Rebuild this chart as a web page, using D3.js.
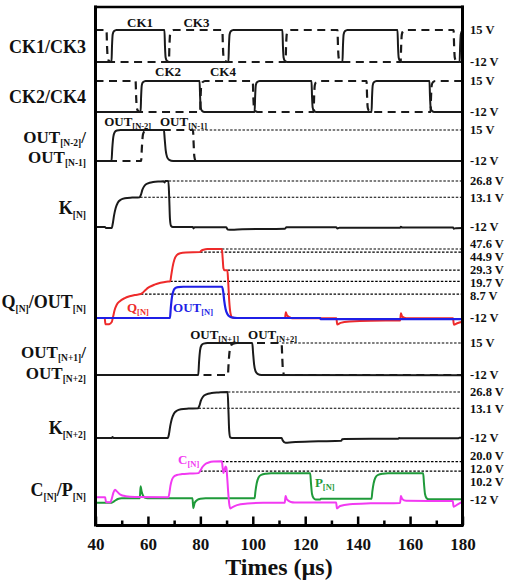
<!DOCTYPE html>
<html>
<head>
<meta charset="utf-8">
<script src="https://cdn.jsdelivr.net/npm/d3@7"></script>
<style>
  html, body { margin: 0; padding: 0; background: #fff; }
  svg { display: block; }
  text { font-family: "Liberation Serif", "Times New Roman", serif; font-weight: bold; fill: #111; }
</style>
</head>
<body>
<svg id="chart" width="506" height="584"></svg>
<script>
// ---- time axis ----
const timeDomain = [40, 180];
const minorTicks = [40, 50, 60, 70, 80, 90, 100, 110, 120, 130, 140, 150, 160, 170, 180];
const tickLabels = ["40", "60", "80", "100", "120", "140", "160", "180"];

// ---- clock edge times (µs); CK1/CK2 start low, CK3/CK4 start high ----
const ck1Edges = [46.1, 66.3, 90.7, 111.3, 134.2, 155.2, 178.9];
const ck3Edges = [44.2, 68.0, 88.4, 112.5, 132.3, 156.4, 176.6];
const ck2Edges = [57.2, 79.7, 100.7, 122.4, 145.3, 167.4];
const ck4Edges = [55.3, 79.9, 100.0, 123.2, 143.4, 167.8];

// ---- waveforms as [time µs, volts] ----
const outNm2 = [[40,-12],[46.1,-12],[46.4,-1],[46.8,9],[47.3,13],[48.1,14.5],[49.6,15],[66.1,15],[66.4,7],[66.8,-3],[67.3,-8.5],[68.1,-11],[69.6,-12],[180,-12]];
const outNm1 = [[40,-12],[57.4,-12],[57.7,0],[58.1,11],[58.8,14.3],[59.8,15],[77.2,15],[77.4,5],[77.7,-8],[78.2,-12],[180,-12]];

const kN = [[40,-12],[43.6,-12],[44.0,-12.9],[46.2,-12.9],[46.6,-9],[47.1,-2],[47.7,4],[48.5,8.5],[49.6,11],[51.2,12.3],[54,12.8],[56.8,13.1],[57.3,15],[57.9,19.5],[58.7,22.8],[60,24.8],[62,25.9],[64.5,26.4],[65.9,26.6],[66.3,25.6],[66.7,26.8],[67.8,26.8],[68.1,14],[68.4,-5],[68.8,-11],[69.5,-12],[77.1,-12],[77.4,-13.2],[77.8,-12.2],[89.9,-12.2],[90.4,-14.2],[92,-14.4],[96,-13.8],[112.3,-13.4],[112.8,-12.3],[131.8,-12.2],[132.3,-13.2],[133,-12.7],[156.2,-12.6],[156.5,-11.8],[157,-12.4],[176.4,-12.4],[176.7,-13.4],[177.5,-13],[180,-12.8]];

const qN = [[40,-12],[43.5,-12],[43.8,-17.5],[45.2,-17.3],[46.2,-15.5],[46.7,-11],[47.3,-5],[48.1,-0.5],[49.3,2.5],[51,5],[53,6.8],[55,7.9],[57.3,8.7],[58,9.8],[59.2,12.5],[60.6,14.8],[62.5,16.8],[64.8,18.4],[67,19.4],[68.5,19.7],[68.9,25],[69.4,32],[70.1,38.5],[71,42.3],[72.3,44],[74.5,44.6],[79.8,44.9],[80.3,46],[81.2,47],[82.7,47.6],[88.2,47.6],[88.5,40],[88.8,31],[89.2,29.3],[90.3,29.3],[90.6,20],[91,3],[91.5,-8],[92.1,-11.5],[93,-12],[112.3,-12],[112.6,-7],[113.0,-9.5],[114,-11.3],[115,-12.2],[131.9,-12.2],[132.2,-17.6],[133.5,-16.2],[137,-15],[145,-14.3],[156.2,-14.2],[156.5,-8],[157,-10.8],[158.5,-12.2],[176.4,-12.3],[176.7,-17.8],[178,-16.5],[180,-15.2]];
const outN = [[40,-12],[68.4,-12],[68.7,-4],[69.1,5],[69.6,10.5],[70.3,13.6],[71.5,14.7],[73.5,15],[88.3,15],[88.7,11],[89.1,3],[89.6,-4],[90.3,-8.5],[91.2,-10.8],[92.5,-11.7],[94,-12],[125.7,-12],[125.9,-13],[180,-13]];

const outNp1 = [[40,-12],[79.2,-12],[79.5,-1],[79.9,9],[80.4,13],[81.2,14.5],[82.7,15],[99.8,15],[100.1,7],[100.5,-3],[101,-8.5],[101.8,-11],[103.3,-12],[180,-12.3]];
const outNp2 = [[40,-12],[90.5,-12],[90.8,-1],[91.2,9],[91.7,13],[92.5,14.5],[94,15],[111.0,15],[111.2,5],[111.5,-8],[112,-12],[180,-12]];

const kN2 = [[40,-12],[46.2,-12],[46.5,-11.2],[46.9,-12],[67.6,-12],[68.0,-9],[68.5,-2],[69.1,4],[69.9,8.5],[71,11],[72.6,12.3],[75.5,12.8],[79.1,13.1],[79.6,15],[80.2,19.5],[81,22.8],[82.3,24.8],[84.3,25.9],[87,26.4],[90.4,26.8],[90.7,12],[91.0,-6],[91.4,-11.5],[92,-12],[111.0,-12],[111.4,-14],[112.5,-16],[115,-15.5],[125,-14.8],[133.8,-14.3],[134.1,-13],[135,-12.8],[155.5,-12.6],[155.8,-12],[156.5,-12.3],[178.5,-12.2],[178.8,-11.7],[180,-11.8]];

const cN = [[40,-9.8],[43.7,-9.8],[44.0,-13.8],[45.7,-13.8],[46.2,-11],[46.8,-6],[47.4,-3.5],[48,-4.5],[49.5,-7.5],[51.5,-8.8],[55,-9.5],[67.8,-9.7],[68.2,-6],[68.6,0],[69.1,4.5],[69.8,7.3],[71,8.8],[73,9.6],[76,10],[79.3,10.4],[80,12.5],[80.8,15.5],[81.8,17.8],[83.2,19.2],[85,20],[88.2,20.3],[88.5,15],[88.8,10.5],[89.2,13],[89.6,16],[89.9,15],[90.2,8],[90.6,-5],[91.0,-15],[91.4,-19],[92,-18.3],[94,-16.3],[98,-15],[104,-14.3],[112.2,-14.2],[112.5,-8.7],[113,-11.5],[114.5,-13.6],[116,-14],[131.8,-14],[132.1,-19],[133.3,-17],[137,-15.5],[145,-14.8],[156.2,-14.4],[156.5,-8.7],[157,-11.2],[158.5,-12.7],[176.3,-12.9],[176.6,-17.6],[178,-15.8],[180,-13.4]];
const pN = [[40,-14.2],[46.2,-14.2],[47.2,-13],[48.5,-11.2],[50,-10.6],[56.9,-10.6],[57.2,-0.5],[57.6,-5],[58.3,-9],[59.3,-10.4],[60.5,-10.6],[77.0,-10.6],[77.3,-18.8],[77.8,-14.5],[78.8,-12],[80,-11],[82,-10.6],[100.7,-10.6],[101.0,-5],[101.5,2],[102.2,6.8],[103.2,9],[105,9.9],[107,10.2],[121.9,10.2],[122.2,2],[122.6,-7],[123.2,-10.5],[124,-11.6],[125.7,-11.6],[126,-11],[145.3,-11],[145.6,-5],[146.1,2],[146.8,6.8],[147.8,9],[149.6,9.9],[151.6,10.2],[165.0,10.2],[165.3,2],[165.7,-7],[166.3,-10.5],[167.1,-11.4],[180,-11.4]];

// ---- voltage labels per panel and dotted reference levels [volts, start time] ----
const voltLabels = [
  ["15 V", "-12 V"],
  ["15 V", "-12 V"],
  ["15 V", "-12 V"],
  ["26.8 V", "13.1 V", "-12 V"],
  ["47.6 V", "44.9 V", "29.3 V", "19.7 V", "8.7 V", "-12 V"],
  ["15 V", "-12 V"],
  ["26.8 V", "13.1 V", "-12 V"],
  ["20.0 V", "12.0 V", "10.2 V", "-12 V"]
];
const refLevels = [
  [],
  [],
  [[15, 77.3]],
  [[26.8, 67.9], [13.1, 57.0]],
  [[47.6, 88.2], [44.9, 79.9], [29.3, 90.4], [19.7, 68.5], [8.7, 57.3]],
  [[15, 111.1]],
  [[26.8, 90.5], [13.1, 79.3]],
  [[20.0, 88.2], [12.0, 79.9]]
];
const panelNames = [
  [["CK1/CK3", ""]],
  [["CK2/CK4", ""]],
  [["OUT", "[N-2]", "/"], ["OUT", "[N-1]", ""]],
  [["K", "[N]", ""]],
  [["Q", "[N]", "/OUT", "[N]"]],
  [["OUT", "[N+1]", "/"], ["OUT", "[N+2]", ""]],
  [["K", "[N+2]", ""]],
  [["C", "[N]", "/P", "[N]"]]
];

// ---- layout ----
const svg = d3.select("#chart");
const X0 = 95.5, X1 = 462.5, YTOP = 7, YBOT = 525;
const x = d3.scaleLinear().domain(timeDomain).range([X0, X1]);

// each panel: pixel of -12 V and pixel of its reference top level
const panelGeom = [
  { vTop: 15,   yLow: 62,  yTop: 30 },
  { vTop: 15,   yLow: 112, yTop: 81 },
  { vTop: 15,   yLow: 161, yTop: 130 },
  { vTop: 26.8, yLow: 227, yTop: 181 },
  { vTop: 47.6, yLow: 318, yTop: 249 },
  { vTop: 15,   yLow: 375, yTop: 343 },
  { vTop: 26.8, yLow: 438, yTop: 392 },
  { vTop: 20,   yLow: 500, yTop: 461.6 }
];
const yScales = panelGeom.map(g => d3.scaleLinear().domain([-12, g.vTop]).range([g.yLow, g.yTop]));
const labelCenters = [[47], [97], [137, 157], [208], [302], [352, 373], [428], [490]];

// build a clock waveform from its edge times
function clockWave(edges, startHigh, lo = -12, hi = 15) {
  const A = hi - lo;
  const pts = [[timeDomain[0], startHigh ? hi : lo]];
  let high = startHigh;
  edges.forEach(t => {
    if (!high) {
      pts.push([t, lo], [t + 0.2, lo + 0.5 * A], [t + 0.45, lo + 0.86 * A], [t + 0.9, lo + 0.96 * A], [t + 1.9, hi]);
    } else {
      pts.push([t, hi], [t + 0.2, hi - 0.5 * A], [t + 0.45, hi - 0.86 * A], [t + 0.9, hi - 0.96 * A], [t + 1.9, lo]);
    }
    high = !high;
  });
  const out = pts.filter(p => p[0] < timeDomain[1]);
  out.push([timeDomain[1] + 2, high ? hi : lo]);
  return out;
}

svg.append("defs").append("clipPath").attr("id", "plotClip")
  .append("rect").attr("x", X0).attr("y", YTOP).attr("width", X1 - X0).attr("height", YBOT - YTOP);

const plot = svg.append("g").attr("clip-path", "url(#plotClip)");

// dotted reference levels
refLevels.forEach((levels, i) => {
  levels.forEach(([v, t0]) => {
    plot.append("line")
      .attr("x1", x(t0)).attr("x2", X1)
      .attr("y1", yScales[i](v)).attr("y2", yScales[i](v))
      .attr("stroke", "#000").attr("stroke-width", 1.2).attr("stroke-dasharray", "2.5,1.6");
  });
});

function drawWave(data, panel, color, dashed, width) {
  const line = d3.line()
    .x(d => x(d[0]))
    .y(d => yScales[panel](d[1]))
    .curve(d3.curveMonotoneX);
  plot.append("path")
    .datum(data)
    .attr("d", line)
    .attr("fill", "none")
    .attr("stroke", color)
    .attr("stroke-width", width || 2)
    .attr("stroke-linejoin", "round")
    .attr("stroke-dasharray", dashed ? "8,5.5" : null);
}

const black = "#1a1a1a";
drawWave(clockWave(ck3Edges, true), 0, black, true, 2.2);
drawWave(clockWave(ck1Edges, false), 0, black, false, 2);
drawWave(clockWave(ck4Edges, true), 1, black, true, 2.2);
drawWave(clockWave(ck2Edges, false), 1, black, false, 2);
drawWave(outNm1, 2, black, true, 2.2);
drawWave(outNm2, 2, black, false, 2);
drawWave(kN, 3, black, false, 2);
drawWave(qN, 4, "#ee2a2a", false, 2);
drawWave(outN, 4, "#1f1fe6", false, 2.2);
drawWave(outNp2, 5, black, true, 2.2);
drawWave(outNp1, 5, black, false, 2);
drawWave(kN2, 6, black, false, 2);
drawWave(pN, 7, "#1f9a3a", false, 2);
drawWave(cN, 7, "#f23af2", false, 2);

// frame
const frame = svg.append("g").attr("stroke", "#000").attr("stroke-linecap", "square");
frame.append("line").attr("x1", X0).attr("x2", X1).attr("y1", YTOP).attr("y2", YTOP).attr("stroke-width", 2.5);
frame.append("line").attr("x1", X0).attr("x2", X0).attr("y1", YTOP).attr("y2", YBOT).attr("stroke-width", 3);
frame.append("line").attr("x1", X1).attr("x2", X1).attr("y1", YTOP).attr("y2", YBOT).attr("stroke-width", 3);

// bottom axis with inward ticks
const labelled = new Set(tickLabels.map(Number));
const axis = d3.axisBottom(x).tickValues(minorTicks).tickSize(0).tickFormat(d => labelled.has(d) ? String(d) : "");
const axisG = svg.append("g").attr("transform", `translate(0,${YBOT})`).call(axis);
axisG.select(".domain").attr("stroke", "#000").attr("stroke-width", 3);
axisG.selectAll(".tick line").remove();
axisG.selectAll(".tick text")
  .attr("y", 25).attr("dy", 0)
  .style("font-family", '"Liberation Serif", serif').style("font-weight", "bold")
  .style("font-size", "17px").attr("fill", "#111");
axisG.selectAll(".tick").append("line")
  .attr("y1", 0).attr("y2", d => labelled.has(d) ? -8.5 : -4.5)
  .attr("stroke", "#000").attr("stroke-width", 2.5);

svg.append("text")
  .attr("x", (X0 + X1) / 2).attr("y", 575)
  .attr("text-anchor", "middle").style("font-size", "24px")
  .text("Times (µs)");

// right-hand voltage labels, spread apart where levels crowd together
voltLabels.forEach((labels, i) => {
  const items = labels.map(s => ({ s, y: yScales[i](parseFloat(s)) }));
  items.sort((a, b) => a.y - b.y);
  const gap = 13;
  for (let it = 0; it < 60; it++) {
    for (let k = 1; k < items.length; k++) {
      const d = items[k].y - items[k - 1].y;
      if (d < gap) {
        const m = (gap - d) / 2;
        items[k - 1].y -= m;
        items[k].y += m;
      }
    }
  }
  items.forEach(o => {
    svg.append("text")
      .attr("x", 470).attr("y", o.y).attr("dy", "0.35em")
      .style("font-size", "12.5px")
      .text(o.s);
  });
});

// text with alternating normal / subscript parts
function richText(parent, xPos, yPos, parts, size, subSize, anchor, color) {
  const t = parent.append("text").attr("x", xPos).attr("y", yPos)
    .attr("text-anchor", anchor).style("font-size", size + "px");
  if (color) t.style("fill", color);
  const shift = size * 0.2;
  parts.forEach((p, j) => {
    if (!p) return;
    const isSub = j % 2 === 1;
    t.append("tspan")
      .style("font-size", (isSub ? subSize : size) + "px")
      .attr("dy", j === 0 ? 0 : (isSub ? shift : -shift))
      .text(p);
  });
  return t;
}

// left-hand signal names
panelNames.forEach((rows, i) => {
  const size = rows.length > 1 ? 17 : 18;
  rows.forEach((parts, r) => {
    richText(svg, 86, labelCenters[i][r] + 6, parts, size, 9.5, "end");
  });
});

// in-plot trace names
const traceTags = [
  { parts: ["CK1"], t: 57.0, y: 27 },
  { parts: ["CK3"], t: 78.5, y: 27 },
  { parts: ["CK2"], t: 67.7, y: 76 },
  { parts: ["CK4"], t: 88.6, y: 76 },
  { parts: ["OUT", "[N-2]"], t: 43.3, y: 126 },
  { parts: ["OUT", "[N-1]"], t: 64.6, y: 126 },
  { parts: ["Q", "[N]"], t: 52.0, y: 312, color: "#ee2a2a" },
  { parts: ["OUT", "[N]"], t: 69.6, y: 312, color: "#1f1fe6" },
  { parts: ["OUT", "[N+1]"], t: 76.1, y: 339 },
  { parts: ["OUT", "[N+2]"], t: 98.2, y: 339 },
  { parts: ["C", "[N]"], t: 71.5, y: 464, color: "#f23af2" },
  { parts: ["P", "[N]"], t: 123.7, y: 487, color: "#1f9a3a" }
];
traceTags.forEach(d => {
  richText(svg, x(d.t), d.y, d.parts, 13, 8.5, d.parts.length === 1 ? "middle" : "start", d.color);
});
</script>
</body>
</html>
